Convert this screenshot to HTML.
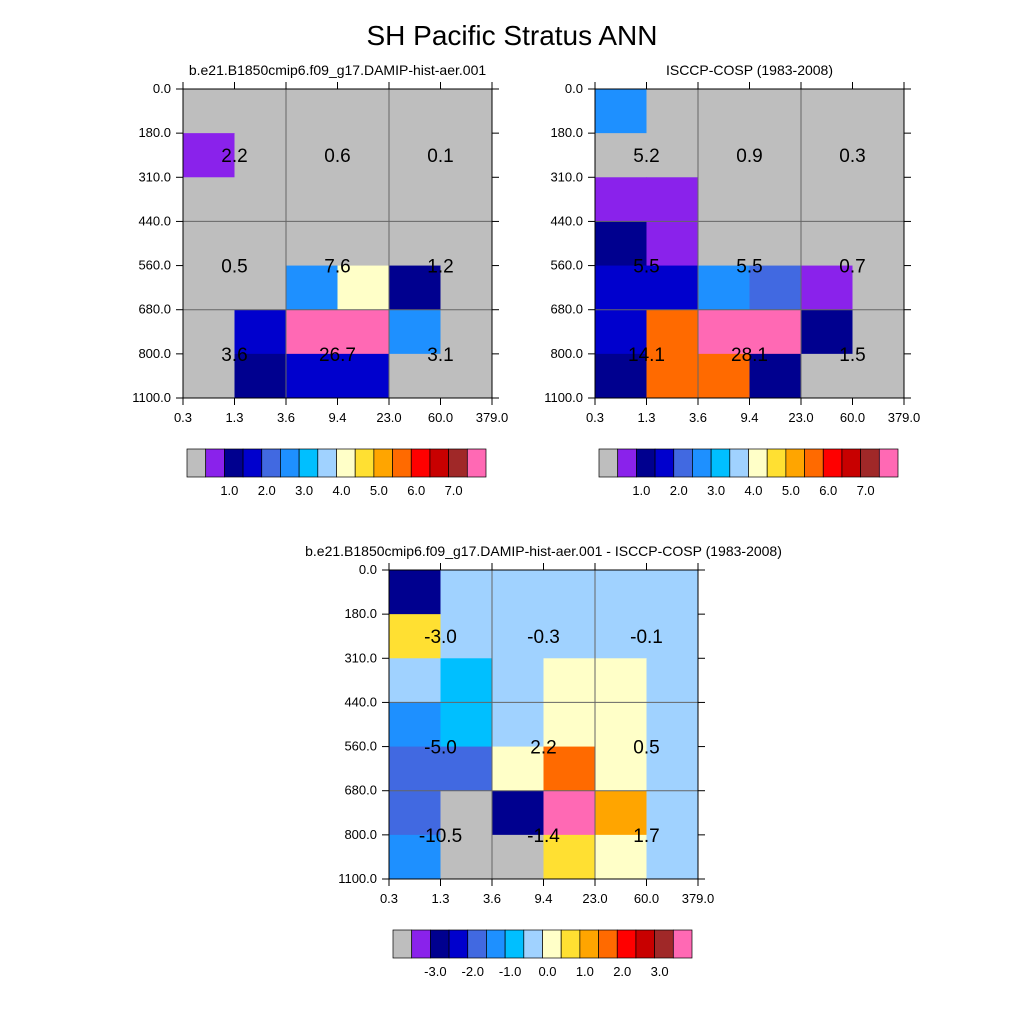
<!DOCTYPE html>
<html><head><meta charset="utf-8"><style>
body{margin:0;background:#fff;width:1024px;height:1024px;overflow:hidden}
svg{display:block;font-family:"Liberation Sans",sans-serif}
</style></head><body>
<svg id="c" width="1024" height="1024">
<text x="512" y="45" font-size="28" text-anchor="middle">SH Pacific Stratus ANN</text>
</svg>
<script>
const xTickLabels=["0.3","1.3","3.6","9.4","23.0","60.0","379.0"];
const yTickLabels=["0.0","180.0","310.0","440.0","560.0","680.0","800.0","1100.0"];
const colors=["#bebebe","#8a22eb","#00008f","#0000cd","#4169e1","#1e90ff","#00bfff","#a0d2ff","#ffffc8","#ffe032","#ffa500","#ff6a00","#ff0000","#c80000","#a02828","#ff69b4"];
const levelsAbs=[0.5,1,1.5,2,2.5,3,3.5,4,4.5,5,5.5,6,6.5,7,7.5];
const levelsDiff=[-3.5,-3,-2.5,-2,-1.5,-1,-0.5,0,0.5,1,1.5,2,2.5,3,3.5];
const cbLabelsAbs=["1.0","2.0","3.0","4.0","5.0","6.0","7.0"];
const cbLabelsDiff=["-3.0","-2.0","-1.0","0.0","1.0","2.0","3.0"];
const modelCells=[
[0.2,0.2,0.2,0.2,0.2,0.2],
[0.8,0.2,0.2,0.2,0.2,0.2],
[0.2,0.2,0.2,0.2,0.2,0.2],
[0.2,0.2,0.2,0.2,0.2,0.2],
[0.2,0.2,2.7,4.2,1.2,0.2],
[0.2,1.7,8.0,8.0,2.7,0.2],
[0.2,1.2,1.7,1.7,0.2,0.2]];
const obsCells=[
[2.7,0.2,0.2,0.2,0.2,0.2],
[0.2,0.2,0.2,0.2,0.2,0.2],
[0.8,0.8,0.2,0.2,0.2,0.2],
[1.2,0.8,0.2,0.2,0.2,0.2],
[1.7,1.7,2.7,2.2,0.8,0.2],
[1.7,5.7,8.0,8.0,1.2,0.2],
[1.2,5.7,5.7,1.2,0.2,0.2]];
const diffCells=[
[-2.7,-0.2,-0.2,-0.2,-0.2,-0.2],
[0.7,-0.2,-0.2,-0.2,-0.2,-0.2],
[-0.2,-0.7,-0.2,0.2,0.2,-0.2],
[-1.2,-0.7,-0.2,0.2,0.2,-0.2],
[-1.7,-1.7,0.2,1.7,0.2,-0.2],
[-1.7,-4,-2.7,4,1.2,-0.2],
[-1.2,-4,-4,0.7,0.2,-0.2]];
const modelSums=[["2.2","0.6","0.1"],["0.5","7.6","1.2"],["3.6","26.7","3.1"]];
const obsSums=[["5.2","0.9","0.3"],["5.5","5.5","0.7"],["14.1","28.1","1.5"]];
const diffSums=[["-3.0","-0.3","-0.1"],["-5.0","2.2","0.5"],["-10.5","-1.4","1.7"]];

const svg=document.getElementById('c');
const NS="http://www.w3.org/2000/svg";
function mk(tag,attrs,parent){const e=document.createElementNS(NS,tag);for(const k in attrs)e.setAttribute(k,attrs[k]);(parent||svg).appendChild(e);return e;}
function colorFor(v,levels){let i=0;while(i<levels.length&&v>=levels[i])i++;return colors[i];}
const rowEdges=[0,1,2,3,4,5,6,7];
function panel(name,x0,y0,title,cells,sums,levels,cbLabels){
  const W=309,H=309,nc=6,nr=7;
  const xs=c=>x0+c*W/nc, ys=r=>y0+r*H/nr;
  const g=mk('g',{});
  
  
  const t=mk('text',{x:x0+W/2,y:y0-14,'font-size':14,'text-anchor':'middle'},g);
  t.textContent=title;
  
  
  cells.forEach((row,r)=>row.forEach((v,c)=>{
    const rc=mk('rect',{x:xs(c),y:ys(r),width:W/nc+0.5,height:H/nr+0.5,fill:colorFor(v,levels)},g);
    
    
  }));
  [2,4].forEach(c=>mk('line',{x1:xs(c),x2:xs(c),y1:y0,y2:y0+H,stroke:'#666','stroke-width':1},g));
  [3,5].forEach(r=>mk('line',{x1:x0,x2:x0+W,y1:ys(r),y2:ys(r),stroke:'#666','stroke-width':1},g));
  mk('rect',{x:x0,y:y0,width:W,height:H,fill:'none',stroke:'#000','stroke-width':1},g);
  xTickLabels.forEach((l,i)=>{
    const x=xs(i);
    mk('line',{x1:x,x2:x,y1:y0+H,y2:y0+H+7,stroke:'#000'},g);
    mk('line',{x1:x,x2:x,y1:y0,y2:y0-7,stroke:'#000'},g);
    const tx=mk('text',{x:x,y:y0+H+24,'font-size':13,'text-anchor':'middle'},g);tx.textContent=l;
    
    
  });
  yTickLabels.forEach((l,i)=>{
    const y=ys(rowEdges[i]);
    mk('line',{x1:x0,x2:x0-7,y1:y,y2:y,stroke:'#000'},g);
    mk('line',{x1:x0+W,x2:x0+W+7,y1:y,y2:y,stroke:'#000'},g);
    const ty=mk('text',{x:x0-12,y:y+4,'font-size':13,'text-anchor':'end'},g);ty.textContent=l;
    
    
  });
  const rowBlocks=[[0,3],[3,5],[5,7]];
  sums.forEach((row,bi)=>row.forEach((s,bj)=>{
    const cy=(ys(rowBlocks[bi][0])+ys(rowBlocks[bi][1]))/2;
    const tx=mk('text',{x:xs(bj*2+1),y:cy+7,'font-size':19,'text-anchor':'middle'},g);tx.textContent=s;
    
    
  }));
  const cbx=x0+4,cby=y0+H+51,cbw=299,cbh=28,bw=cbw/16;
  colors.forEach((col,i)=>{
    const b=mk('rect',{x:cbx+i*bw,y:cby,width:bw,height:cbh,fill:col,stroke:'#000','stroke-width':0.7},g);
    
    
  });
  cbLabels.forEach((l,i)=>{
    const tx=mk('text',{x:cbx+(2+2*i)*bw+5,y:cby+cbh+18,'font-size':13,'text-anchor':'middle'},g);tx.textContent=l;
    
    
  });
}
panel('model-panel',183,89,'b.e21.B1850cmip6.f09_g17.DAMIP-hist-aer.001',modelCells,modelSums,levelsAbs,cbLabelsAbs);
panel('obs-panel',595,89,'ISCCP-COSP (1983-2008)',obsCells,obsSums,levelsAbs,cbLabelsAbs);
panel('diff-panel',389,570,'b.e21.B1850cmip6.f09_g17.DAMIP-hist-aer.001 - ISCCP-COSP (1983-2008)',diffCells,diffSums,levelsDiff,cbLabelsDiff);
</script>
</body></html>
